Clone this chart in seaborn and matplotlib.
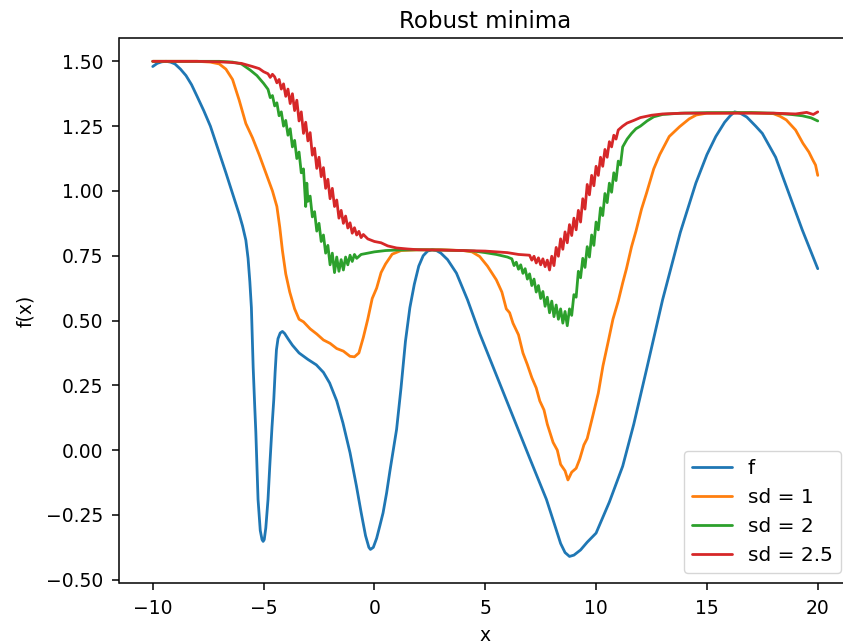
import matplotlib
matplotlib.use("Agg")
import matplotlib.pyplot as plt
import seaborn as sns
import pandas as pd

# ---------------- data ----------------
f_x = [-10, -9.8, -9.6, -9.4, -9.2, -9.0, -8.75, -8.5, -8.25, -8.0, -7.7, -7.4, -7.05,
       -6.7, -6.4, -6.1, -5.95, -5.8, -5.7, -5.62, -5.55, -5.47, -5.4, -5.35, -5.25,
       -5.15, -5.07, -5.02, -4.97, -4.9, -4.8, -4.72, -4.62, -4.54, -4.48, -4.42, -4.35,
       -4.25, -4.15, -4.05, -3.9, -3.7, -3.4, -3.0, -2.62, -2.3, -2.02, -1.7, -1.42,
       -1.1, -0.81, -0.6, -0.4, -0.25, -0.18, -0.05, 0.1, 0.25, 0.39, 0.55, 0.7, 0.85,
       1.0, 1.2, 1.4, 1.6, 1.8, 2.0, 2.2, 2.4, 2.6, 2.8, 3.0, 3.3, 3.7, 4.2, 4.75, 5.5,
       6.25, 7.0, 7.76, 8.1, 8.4, 8.6, 8.8, 9.0, 9.3, 9.6, 10.0, 10.6, 11.2, 11.7, 12.3,
       13.0, 13.8, 14.5, 15.0, 15.4, 15.8, 16.05, 16.25, 16.5, 16.8, 17.2, 17.5, 18.1,
       18.7, 19.3, 20.0]
f_y = [1.48, 1.492, 1.498, 1.50, 1.497, 1.49, 1.47, 1.445, 1.41, 1.365, 1.31, 1.25,
       1.16, 1.07, 0.99, 0.91, 0.865, 0.81, 0.74, 0.65, 0.55, 0.32, 0.17, 0.07, -0.19,
       -0.31, -0.345, -0.352, -0.345, -0.30, -0.19, -0.06, 0.09, 0.195, 0.30, 0.387,
       0.43, 0.452, 0.458, 0.45, 0.43, 0.405, 0.375, 0.35, 0.329, 0.30, 0.259, 0.19,
       0.105, -0.01, -0.139, -0.24, -0.33, -0.375, -0.383, -0.375, -0.34, -0.29, -0.242,
       -0.165, -0.08, 0.0, 0.08, 0.24, 0.42, 0.55, 0.64, 0.71, 0.75, 0.768, 0.773, 0.77,
       0.76, 0.735, 0.683, 0.58, 0.45, 0.29, 0.13, -0.03, -0.19, -0.28, -0.36, -0.395,
       -0.41, -0.405, -0.385, -0.355, -0.32, -0.20, -0.062, 0.10, 0.32, 0.58, 0.84,
       1.03, 1.14, 1.21, 1.265, 1.29, 1.305, 1.30, 1.285, 1.25, 1.222, 1.13, 0.99, 0.85,
       0.70]

sd1_x = [-10, -8, -7.4, -7.0, -6.7, -6.4, -6.1, -5.8, -5.5, -5.2, -4.9, -4.6, -4.4,
         -4.27, -4.15, -4.0, -3.82, -3.6, -3.4, -3.2, -2.9, -2.6, -2.3, -2.0, -1.7,
         -1.4, -1.1, -0.9, -0.7, -0.5, -0.3, -0.1, 0.1, 0.3, 0.5, 0.8, 1.2, 2.0, 3.0,
         4.0, 4.4, 4.75, 5.1, 5.5, 5.75, 5.95, 6.1, 6.25, 6.5, 6.7, 6.9, 7.1, 7.3, 7.46,
         7.65, 7.8, 8.06, 8.25, 8.4, 8.6, 8.73, 8.9, 9.1, 9.26, 9.45, 9.6, 9.86, 10.1,
         10.31, 10.55, 10.76, 11.0, 11.2, 11.37, 11.6, 11.8, 12.05, 12.27, 12.6, 12.87,
         13.3, 13.77, 14.2, 14.52, 15.0, 17.0, 18.0, 18.3, 18.58, 19.0, 19.33, 19.6,
         19.78, 19.9, 20.0]
sd1_y = [1.50, 1.50, 1.497, 1.49, 1.47, 1.43, 1.35, 1.26, 1.205, 1.14, 1.07, 1.0,
         0.94, 0.86, 0.77, 0.68, 0.61, 0.545, 0.505, 0.495, 0.468, 0.448, 0.425, 0.412,
         0.392, 0.382, 0.362, 0.36, 0.375, 0.435, 0.505, 0.585, 0.625, 0.685, 0.718,
         0.756, 0.77, 0.773, 0.773, 0.77, 0.765, 0.747, 0.71, 0.657, 0.61, 0.545, 0.53,
         0.49, 0.445, 0.375, 0.33, 0.28, 0.24, 0.19, 0.155, 0.10, 0.03, 0.0, -0.055,
         -0.08, -0.115, -0.085, -0.07, -0.035, 0.02, 0.045, 0.135, 0.22, 0.325, 0.42,
         0.505, 0.575, 0.645, 0.70, 0.785, 0.845, 0.93, 0.99, 1.085, 1.14, 1.21, 1.248,
         1.278, 1.293, 1.30, 1.302, 1.298, 1.288, 1.274, 1.235, 1.184, 1.15, 1.119,
         1.10, 1.06]

sd2_x = [-10, -7, -6.4, -6.0, -5.6, -5.3, -5.0,
         -4.8, -4.7, -4.6, -4.5, -4.4, -4.3, -4.2, -4.1, -4.0, -3.9, -3.8, -3.7, -3.6,
         -3.5, -3.4, -3.3, -3.2, -3.1, -3.05, -3.0, -2.9, -2.8, -2.7, -2.6, -2.5, -2.4,
         -2.3, -2.2, -2.1, -2.0, -1.9, -1.8, -1.7, -1.6, -1.5, -1.4, -1.3, -1.2, -1.1,
         -1.0, -0.9, -0.8,
         -0.6, -0.3, 0.0, 0.5, 1.0, 2.0, 3.0, 4.0, 4.5, 5.0, 5.5, 6.0,
         6.2, 6.3, 6.4, 6.5, 6.6, 6.7, 6.8, 6.9, 7.0, 7.1, 7.2, 7.3, 7.4, 7.5, 7.6, 7.7,
         7.8, 7.9, 8.0, 8.1, 8.2, 8.3, 8.4, 8.5, 8.6, 8.7, 8.8, 8.9, 9.0, 9.1, 9.2, 9.3,
         9.4, 9.5, 9.6, 9.7, 9.8, 9.9, 10.0, 10.1, 10.2, 10.3, 10.4, 10.5, 10.6, 10.7,
         10.8, 10.9, 11.0, 11.1, 11.2,
         11.4, 11.6, 11.8, 12.0, 12.3, 12.6, 13.0, 13.8, 15.0, 17.0, 18.0, 18.8, 19.3,
         19.7, 20.0]
sd2_y = [1.50, 1.50, 1.497, 1.49, 1.466, 1.445, 1.415,
         1.392, 1.36, 1.368, 1.328, 1.34, 1.29, 1.305, 1.25, 1.272, 1.215, 1.24, 1.17,
         1.195, 1.125, 1.15, 1.07, 1.085, 0.94, 1.03, 0.96, 0.98, 0.90, 0.92, 0.845,
         0.875, 0.805, 0.83, 0.76, 0.79, 0.715, 0.76, 0.685, 0.745, 0.69, 0.735, 0.695,
         0.745, 0.715, 0.752, 0.728, 0.755, 0.74,
         0.755, 0.76, 0.765, 0.77, 0.772, 0.773, 0.772, 0.77, 0.768, 0.762, 0.755, 0.745,
         0.738, 0.712, 0.725, 0.698, 0.715, 0.682, 0.70, 0.66, 0.68, 0.635, 0.66, 0.61,
         0.635, 0.585, 0.612, 0.555, 0.59, 0.53, 0.575, 0.515, 0.56, 0.505, 0.545, 0.49,
         0.535, 0.48, 0.545, 0.52, 0.60, 0.59, 0.69, 0.665, 0.74, 0.705, 0.785, 0.745,
         0.83, 0.79, 0.88, 0.85, 0.935, 0.905, 0.99, 0.955, 1.03, 0.995, 1.07, 1.04,
         1.115, 1.10, 1.17,
         1.20, 1.222, 1.24, 1.25, 1.27, 1.286, 1.295, 1.30, 1.302, 1.302, 1.30, 1.295,
         1.29, 1.282, 1.27]

sd25_x = [-10, -8, -7, -6.5, -6.0, -5.5, -5.2, -5.0, -4.8, -4.7, -4.6,
          -4.5, -4.4, -4.3, -4.2, -4.1, -4.0, -3.9, -3.8, -3.7, -3.6, -3.5, -3.4, -3.3,
          -3.2, -3.1, -3.0, -2.9, -2.8, -2.7, -2.6, -2.5, -2.4, -2.3, -2.2, -2.1, -2.0,
          -1.9, -1.8, -1.7, -1.6, -1.5, -1.4, -1.3, -1.2, -1.1, -1.0, -0.9, -0.8, -0.7,
          -0.6, -0.5,
          -0.3, 0.0, 0.3, 0.6, 1.0, 1.5, 2.0, 3.0, 4.0, 5.0, 5.5, 6.0, 6.5,
          7.0, 7.1, 7.2, 7.3, 7.4, 7.5, 7.6, 7.7, 7.8, 7.9, 8.0, 8.1, 8.2, 8.3, 8.4,
          8.5, 8.6, 8.7, 8.8, 8.9, 9.0, 9.1, 9.2, 9.3, 9.4, 9.5, 9.6, 9.7, 9.8, 9.9,
          10.0, 10.1, 10.2, 10.3, 10.4, 10.5, 10.6, 10.7, 10.8, 10.9, 11.0,
          11.2, 11.4, 11.7, 12.0, 12.5, 13.0, 14.0, 16.0, 18.0, 19.0, 19.5, 19.8, 20.0]
sd25_y = [1.50, 1.50, 1.498, 1.496, 1.492, 1.48, 1.472, 1.46, 1.452, 1.438, 1.45,
          1.44, 1.417, 1.43, 1.393, 1.413, 1.365, 1.393, 1.337, 1.375, 1.31, 1.35, 1.27,
          1.305, 1.222, 1.265, 1.193, 1.225, 1.138, 1.165, 1.087, 1.13, 1.055, 1.09,
          1.01, 1.045, 0.97, 1.01, 0.94, 0.965, 0.895, 0.925, 0.875, 0.903, 0.857,
          0.877, 0.837, 0.858, 0.83, 0.844, 0.82, 0.832,
          0.815, 0.805, 0.80, 0.788, 0.78, 0.776, 0.773, 0.772, 0.77, 0.768, 0.765,
          0.762, 0.755,
          0.752, 0.733, 0.748, 0.722, 0.742, 0.715, 0.738, 0.708, 0.733, 0.695, 0.748,
          0.712, 0.782, 0.748, 0.815, 0.775, 0.842, 0.80, 0.87, 0.828, 0.895, 0.85,
          0.925, 0.88, 0.97, 0.93, 1.025, 0.985, 1.06, 1.02, 1.095, 1.06, 1.13, 1.095,
          1.16, 1.13, 1.19, 1.17, 1.215, 1.20, 1.235,
          1.25, 1.262, 1.272, 1.283, 1.292, 1.297, 1.30, 1.30, 1.30, 1.297, 1.303,
          1.295, 1.305]

series_labels = ["f", "sd = 1", "sd = 2", "sd = 2.5"]
x_ticks = [-10, -5, 0, 5, 10, 15, 20]
y_ticks = [-0.50, -0.25, 0.00, 0.25, 0.50, 0.75, 1.00, 1.25, 1.50]

# ---------------- plot ----------------
sns.set_style("ticks")
plt.rcParams["font.family"] = ["DejaVu Sans"]
for k in ["text.color", "axes.labelcolor", "xtick.color", "ytick.color", "axes.edgecolor"]:
    plt.rcParams[k] = "black"
colors = sns.color_palette("tab10", 4)

fig = plt.figure(figsize=(8.43, 6.44), dpi=100)
ax = fig.add_axes([119.5 / 843, 61 / 644, (851 - 119.5) / 843, (583 - 38) / 644])

for (xs, ys), lab, col in zip([(f_x, f_y), (sd1_x, sd1_y), (sd2_x, sd2_y), (sd25_x, sd25_y)],
                              series_labels, colors):
    df = pd.DataFrame({"x": xs, "y": ys})
    sns.lineplot(data=df, x="x", y="y", ax=ax, color=col, label=lab,
                 estimator=None, sort=False, linewidth=2.0)

ax.set_xlim(-11.5, 21.5)
ax.set_ylim(-0.5125, 1.59)
ax.set_xticks(x_ticks)
ax.set_yticks(y_ticks)
ax.set_yticklabels([f"{v:.2f}".replace("-", "\u2212") for v in y_ticks])
ax.set_xticklabels([str(v).replace("-", "\u2212") for v in x_ticks])
ax.tick_params(labelsize=13.5, length=5, width=1.1, pad=6.5, colors="black")
for s in ax.spines.values():
    s.set_linewidth(1.1)
    s.set_color("black")
ax.set_xlabel("x", fontsize=13.5, labelpad=6)
ax.set_ylabel("f(x)", fontsize=13.5, labelpad=8)
ax.set_title("Robust minima", fontsize=16.5, pad=7)
ax.legend(loc="lower right", fontsize=14.5, frameon=True)

fig.savefig("out.png", dpi=100)
